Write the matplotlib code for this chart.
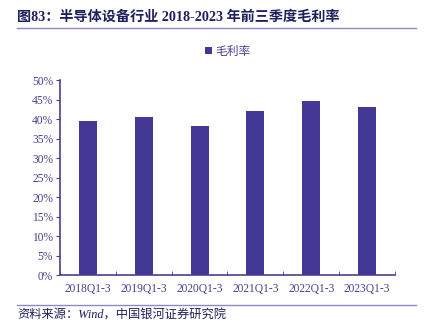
import matplotlib.pyplot as plt
import numpy as np

categories = ['2018Q1-3', '2019Q1-3', '2020Q1-3', '2021Q1-3', '2022Q1-3', '2023Q1-3']
margin = [39.5, 40.6, 38.3, 42.2, 44.7, 43.2]

bar_color = '#433895'
text_color = '#4a3f8f'
title_color = '#1f1f5f'
fam = ['Liberation Serif', 'Noto Sans CJK SC', 'DejaVu Sans']
plt.rcParams['font.family'] = fam


def main():
    fig = plt.figure(figsize=(4.26, 3.31), dpi=100)
    ax = fig.add_axes([0.141, 0.169, 0.786, 0.589])

    x = np.arange(len(categories))
    ax.bar(x, margin, width=0.32, color=bar_color, label='毛利率', zorder=2)

    ax.set_xlim(-0.5, len(categories) - 0.5)
    ax.set_ylim(0, 50)
    ax.set_yticks(np.arange(0, 51, 5))
    ax.set_yticklabels([f'{v}%' for v in range(0, 51, 5)])
    ax.set_xticks(x)
    ax.set_xticklabels(categories)
    ax.set_xticks(np.arange(-0.5, len(categories)), minor=True)
    ax.tick_params(axis='x', which='major', length=0, pad=6, labelsize=8.3, labelcolor=text_color)
    ax.tick_params(axis='x', which='minor', length=3, direction='in', color=text_color)
    ax.tick_params(axis='y', length=3, direction='out', color=text_color, labelsize=8.3,
                   labelcolor=text_color, pad=2)

    for s in ['top', 'right']:
        ax.spines[s].set_visible(False)
    for s in ['left', 'bottom']:
        ax.spines[s].set_color(text_color)
        ax.spines[s].set_linewidth(1.2)

    ax.legend(loc='lower center', bbox_to_anchor=(0.5, 1.06), frameon=False,
              handlelength=0.6, handleheight=0.6, handletextpad=0.3,
              prop={'family': fam, 'size': 8.5}, labelcolor=text_color)

    fig.text(0.04, 0.948, '图83：半导体设备行业 2018-2023 年前三季度毛利率',
             fontsize=10.2, fontweight='bold', color=title_color, va='center')
    fig.add_artist(plt.Line2D([0.04, 0.977], [0.915, 0.915], color='#8f88c8', lw=1))
    fig.add_artist(plt.Line2D([0.04, 0.977], [0.08, 0.08], color='#8f88c8', lw=1))
    fig.text(0.04, 0.047, '资料来源：Wind，中国银河证券研究院', fontsize=8.8,
             style='italic', color=title_color, va='center')

    fig.savefig('out.png', dpi=100)


main()
